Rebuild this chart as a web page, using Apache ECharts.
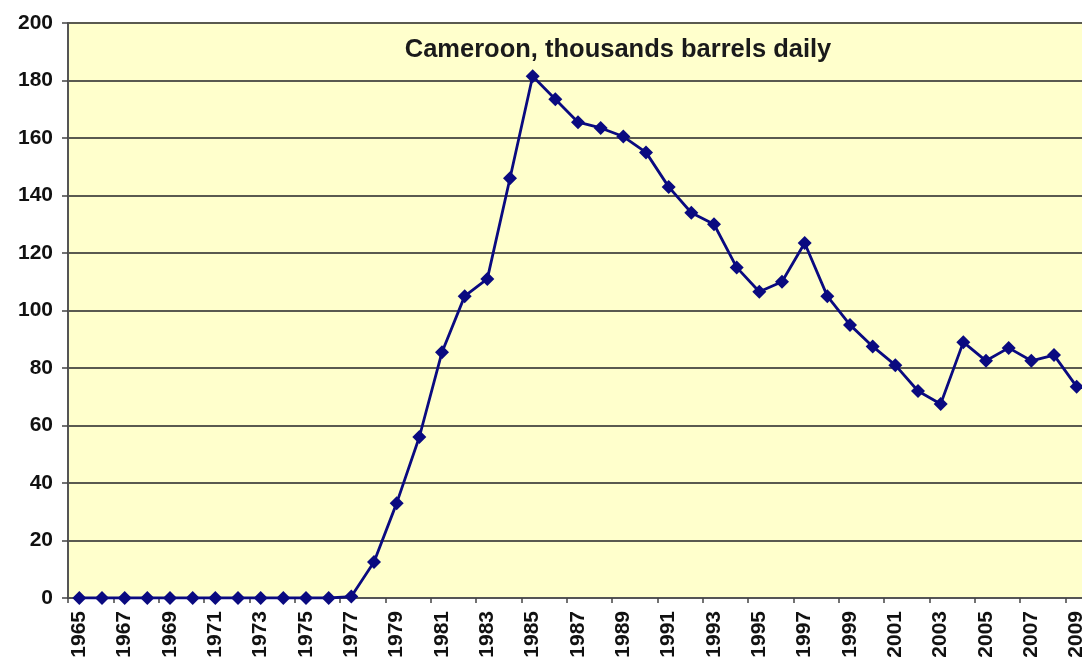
<!DOCTYPE html>
<html>
<head>
<meta charset="utf-8">
<script src="https://cdn.jsdelivr.net/npm/echarts@6/dist/echarts.min.js"></script>
<style>
html,body{margin:0;padding:0;background:#fff;}
#chart{width:1082px;height:658px;}
</style>
</head>
<body>
<div id="chart"></div>
<script>
const years = [];
for (let y = 1965; y <= 2009; y++) years.push(String(y));
const production = [
  0, 0, 0, 0, 0, 0, 0, 0, 0, 0, 0, 0, 0.5,
  12.5, 33, 56, 85.5, 105, 111, 146, 181.5, 173.5, 165.5, 163.5, 160.5, 155,
  143, 134, 130, 115, 106.5, 110, 123.5, 105, 95, 87.5, 81, 72, 67.5,
  89, 82.5, 87, 82.5, 84.5, 73.5
];
const titleText = 'Cameroon, thousands barrels daily';
const FONT = '"Liberation Sans", Arial, sans-serif';

const chart = echarts.init(document.getElementById('chart'));
chart.setOption({
  animation: false,
  backgroundColor: '#ffffff',
  title: {
    text: titleText,
    left: 613, textAlign: 'center', top: 32,
    textStyle: { fontFamily: FONT, fontWeight: 'bold', fontSize: 25.5, color: '#1a1a1a' }
  },
  grid: {
    left: 68, top: 23, height: 575, width: 1020,
    containLabel: false, outerBoundsMode: 'none',
    backgroundColor: '#FFFFCC', show: true, borderWidth: 0
  },
  xAxis: {
    type: 'category',
    data: years,
    boundaryGap: true,
    axisLine: { lineStyle: { color: '#555', width: 2 } },
    axisTick: { show: true, interval: 1, length: 5, lineStyle: { color: '#444', width: 1.5 } },
    axisLabel: {
      interval: 1, rotate: 90, margin: 13,
      fontFamily: FONT, fontWeight: 'bold', fontSize: 21, color: '#111'
    },
    splitLine: { show: false }
  },
  yAxis: {
    type: 'value', min: 0, max: 200, interval: 20,
    axisLine: { show: true, lineStyle: { color: '#555', width: 2 } },
    axisTick: { show: true, length: 6, lineStyle: { color: '#444', width: 1.5 } },
    axisLabel: { margin: 15, fontFamily: FONT, fontWeight: 'bold', fontSize: 21, color: '#111' },
    splitLine: { show: true, lineStyle: { color: '#5a5a50', width: 2 } }
  },
  series: [{
    type: 'line',
    data: production,
    symbol: 'diamond',
    symbolSize: 14,
    lineStyle: { color: '#0a0a80', width: 2.8 },
    itemStyle: { color: '#0a0a80' },
    z: 5
  }]
});
</script>
</body>
</html>
